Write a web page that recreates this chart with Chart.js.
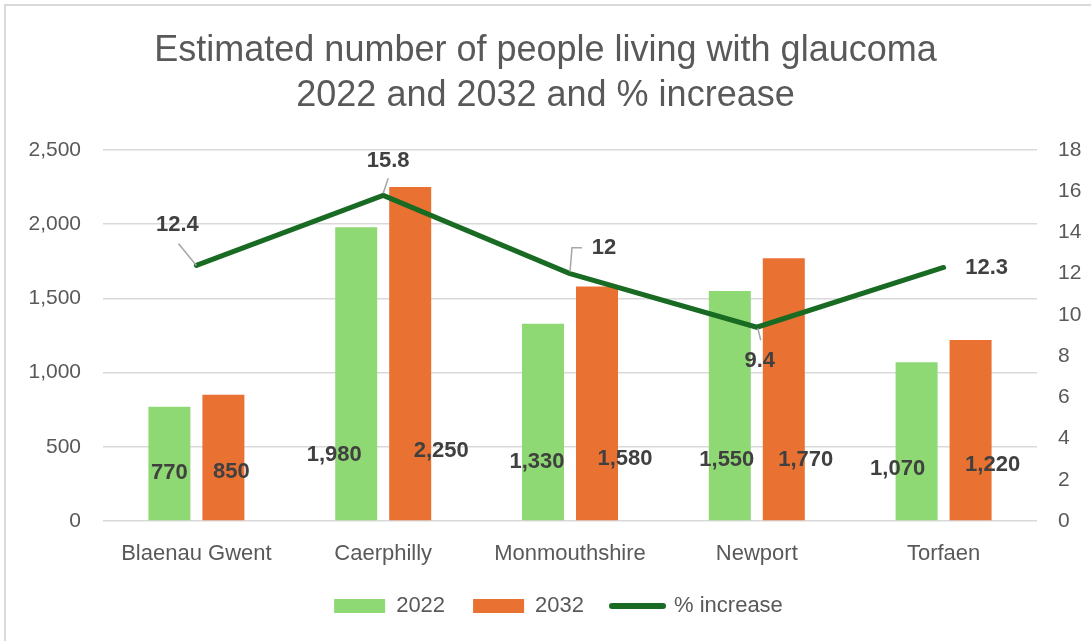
<!DOCTYPE html>
<html><head><meta charset="utf-8">
<script src="https://cdn.jsdelivr.net/npm/chart.js@4.4.1/dist/chart.umd.min.js"></script>
<style>
html,body{margin:0;padding:0;background:#fff;width:1091px;height:641px;overflow:hidden;}
#frame{position:absolute;left:4px;top:4px;width:1087px;height:637px;border-left:2px solid #d9d9d9;border-top:2px solid #d9d9d9;box-sizing:border-box;}
#wrap{position:absolute;left:0;top:0;width:1091px;height:641px;}
</style></head><body>
<div id="frame"></div>
<div id="wrap"><canvas id="c" width="1091" height="641"></canvas></div>
<script>
// ---- data ----
const categories = ['Blaenau Gwent', 'Caerphilly', 'Monmouthshire', 'Newport', 'Torfaen'];
const people2022 = [770, 1980, 1330, 1550, 1070];
const people2032 = [850, 2250, 1580, 1770, 1220];
const pctIncrease = [12.4, 15.8, 12, 9.4, 12.3];
const leftAxisMax = 2500, leftAxisStep = 500;
const rightAxisMax = 18, rightAxisStep = 2;
const seriesNames = ['2022', '2032', '% increase'];
const titleLines = ['Estimated number of people living with glaucoma', '2022 and 2032 and % increase'];

// ---- label placement styles (offsets relative to marks) ----
const bar2022LabelOffsets = [[0,-47],[-22,-65],[-6,-58],[-3,-60],[-19,-51]];
const bar2032LabelOffsets = [[8,-48],[31,-69],[28,-61],[22,-60],[22,-55]];
const lineLabelOffsets = [[-19,-40],[5,-34],[34,-26],[3,34],[43,0]];
const lineLeaders = [
  [[-18,-22],[0,0]],
  [[5,-17],[0,-2]],
  [[12,-26],[2,-26],[0,-2]],
  [[1,1],[4,13]],
  null
];
const legendShiftX = 13;

const FONT = "'Liberation Sans', Arial, sans-serif";
const fmt = v => Number(v).toLocaleString('en-US');

const labelPlugin = {
  id: 'labelPlugin',
  afterLayout(chart) {
    if (chart.legend) { chart.legend.left += legendShiftX; chart.legend.right += legendShiftX; }
  },
  afterDatasetsDraw(chart) {
    const ctx = chart.ctx;
    ctx.save();
    ctx.font = "bold 22px " + FONT;
    ctx.fillStyle = '#404040';
    ctx.textAlign = 'center';
    ctx.textBaseline = 'middle';
    [[0, people2022, bar2022LabelOffsets], [1, people2032, bar2032LabelOffsets]].forEach(([di, vals, offs]) => {
      const meta = chart.getDatasetMeta(di);
      meta.data.forEach((el, i) => {
        ctx.fillText(fmt(vals[i]), el.x + offs[i][0], el.base + offs[i][1]);
      });
    });
    const lm = chart.getDatasetMeta(2);
    lm.data.forEach((el, i) => {
      const ld = lineLeaders[i];
      if (ld) {
        ctx.beginPath();
        ctx.strokeStyle = '#a6a6a6';
        ctx.lineWidth = 1.5;
        ld.forEach((p, k) => {
          if (k === 0) ctx.moveTo(el.x + p[0], el.y + p[1]);
          else ctx.lineTo(el.x + p[0], el.y + p[1]);
        });
        ctx.stroke();
      }
      ctx.fillStyle = '#404040';
      ctx.fillText(String(pctIncrease[i]), el.x + lineLabelOffsets[i][0], el.y + lineLabelOffsets[i][1]);
    });
    ctx.restore();
  }
};

new Chart(document.getElementById('c'), {
  data: {
    labels: categories,
    datasets: [
      { type: 'bar', label: seriesNames[0], data: people2022, backgroundColor: '#8ED973', yAxisID: 'y', order: 2,
        categoryPercentage: 0.578, barPercentage: 0.778 },
      { type: 'bar', label: seriesNames[1], data: people2032, backgroundColor: '#E97132', yAxisID: 'y', order: 2,
        categoryPercentage: 0.578, barPercentage: 0.778 },
      { type: 'line', label: seriesNames[2], data: pctIncrease, borderColor: '#196B24', backgroundColor: '#196B24',
        borderWidth: 5, pointRadius: 0, borderCapStyle: 'round', borderJoinStyle: 'round', yAxisID: 'y1', order: 1, tension: 0 }
    ]
  },
  options: {
    responsive: false,
    animation: false,
    layout: { padding: { left: 0, right: 0, top: 0, bottom: 14 } },
    plugins: {
      title: {
        display: true, text: titleLines, color: '#595959',
        font: { family: FONT, size: 36, weight: 'normal', lineHeight: 1.25 },
        padding: { top: 28.5, bottom: 31.5 }
      },
      legend: {
        position: 'bottom',
        labels: {
          color: '#595959',
          font: { family: FONT, size: 22 },
          usePointStyle: true, pointStyleWidth: 51, boxHeight: 14, padding: 28,
          generateLabels(chart) {
            return chart.data.datasets.map((ds, i) => ({
              text: ds.label,
              fillStyle: ds.type === 'line' ? 'rgba(0,0,0,0)' : ds.backgroundColor,
              strokeStyle: ds.type === 'line' ? ds.borderColor : ds.backgroundColor,
              lineWidth: ds.type === 'line' ? 6 : 0,
              lineCap: 'round',
              pointStyle: ds.type === 'line' ? 'line' : 'rect',
              fontColor: '#595959',
              datasetIndex: i, hidden: false
            }));
          }
        }
      },
      tooltip: { enabled: false }
    },
    scales: {
      x: {
        grid: { display: false },
        border: { display: false },
        ticks: { color: '#595959', font: { family: FONT, size: 22 }, padding: 12, maxRotation: 0 },
        afterFit(s) { s.height = 46; }
      },
      y: {
        position: 'left', min: 0, max: leftAxisMax,
        ticks: { stepSize: leftAxisStep, color: '#595959', font: { family: FONT, size: 21 }, padding: 22, callback: v => fmt(v) },
        grid: { color: '#d9d9d9', lineWidth: 1.5, drawTicks: false },
        border: { display: false },
        afterFit(s) { s.width = 103; }
      },
      y1: {
        position: 'right', min: 0, max: rightAxisMax,
        ticks: { stepSize: rightAxisStep, color: '#595959', font: { family: FONT, size: 21 }, padding: 21 },
        grid: { display: false, drawTicks: false },
        border: { display: false },
        afterFit(s) { s.width = 54; }
      }
    }
  },
  plugins: [labelPlugin]
});
</script>
</body></html>
